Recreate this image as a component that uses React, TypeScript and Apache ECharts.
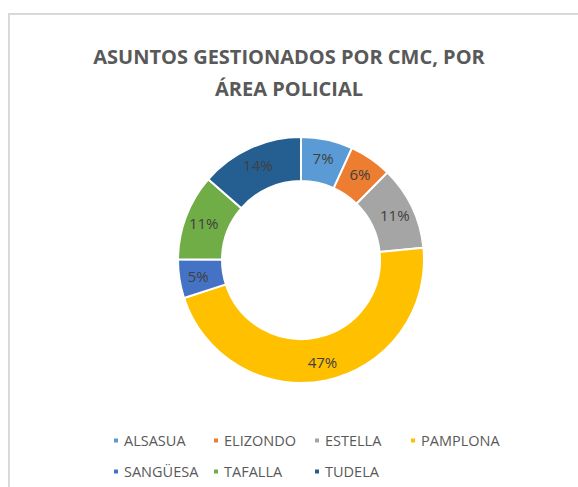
import React, { useEffect, useRef } from "react";
import * as echarts from "echarts";

const categories = ["ALSASUA", "ELIZONDO", "ESTELLA", "PAMPLONA", "SANGÜESA", "TAFALLA", "TUDELA"];
const values = [6.8, 5.6, 11.0, 46.6, 5.1, 11.3, 13.6];
const colors = ["#5B9BD5", "#ED7D31", "#A5A5A5", "#FFC000", "#4472C4", "#70AD47", "#255E91"];
const titleText = "ASUNTOS GESTIONADOS POR CMC, POR\nÁREA POLICIAL";
const legendColumnsX = [112, 212, 313, 409];
const legendRowsY = [433, 464];

const FONT = "'Open Sans', 'Noto Sans', sans-serif";

export default function App() {
  const ref = useRef<HTMLDivElement>(null);
  useEffect(() => {
    if (!ref.current) return;
    const chart = echarts.init(ref.current, undefined, { renderer: "svg" });
    const legends = categories.map((name, i) => ({
      orient: "horizontal" as const,
      left: legendColumnsX[i % 4],
      top: legendRowsY[Math.floor(i / 4)],
      padding: 0,
      itemWidth: 6,
      itemHeight: 6,
      icon: "rect",
      data: [name],
      textStyle: {
        fontSize: 14.5,
        color: "#595959",
        fontFamily: FONT,
      },
    }));
    chart.setOption({
      animation: false,
      backgroundColor: "#ffffff",
      color: colors,
      title: {
        text: titleText,
        left: "center",
        top: 35,
        textStyle: {
          fontFamily: FONT,
          fontWeight: "bold",
          fontSize: 20,
          lineHeight: 32,
          color: "#595959",
          align: "center",
        },
      },
      legend: legends,
      graphic: [
        {
          type: "rect",
          shape: { x: 9, y: 14, width: 700, height: 600 },
          style: { fill: "none", stroke: "#d9d9d9", lineWidth: 2 },
          silent: true,
        },
      ],
      series: [
        {
          type: "pie",
          center: [301, 260],
          radius: [79, 123],
          startAngle: 90,
          clockwise: true,
          avoidLabelOverlap: false,
          itemStyle: { borderColor: "#ffffff", borderWidth: 2 },
          label: {
            show: true,
            position: "inside",
            formatter: (p: any) => `${Math.round(p.percent)}%`,
            fontFamily: FONT,
            fontSize: 15,
            color: "#404040",
          },
          labelLine: { show: false },
          emphasis: { disabled: true },
          data: categories.map((name, i) => ({ name, value: values[i] })),
        },
      ],
    });
    return () => chart.dispose();
  }, []);
  return (
    <div
      ref={ref}
      style={{ position: "absolute", left: 0, top: 0, width: 578, height: 487 }}
    />
  );
}
